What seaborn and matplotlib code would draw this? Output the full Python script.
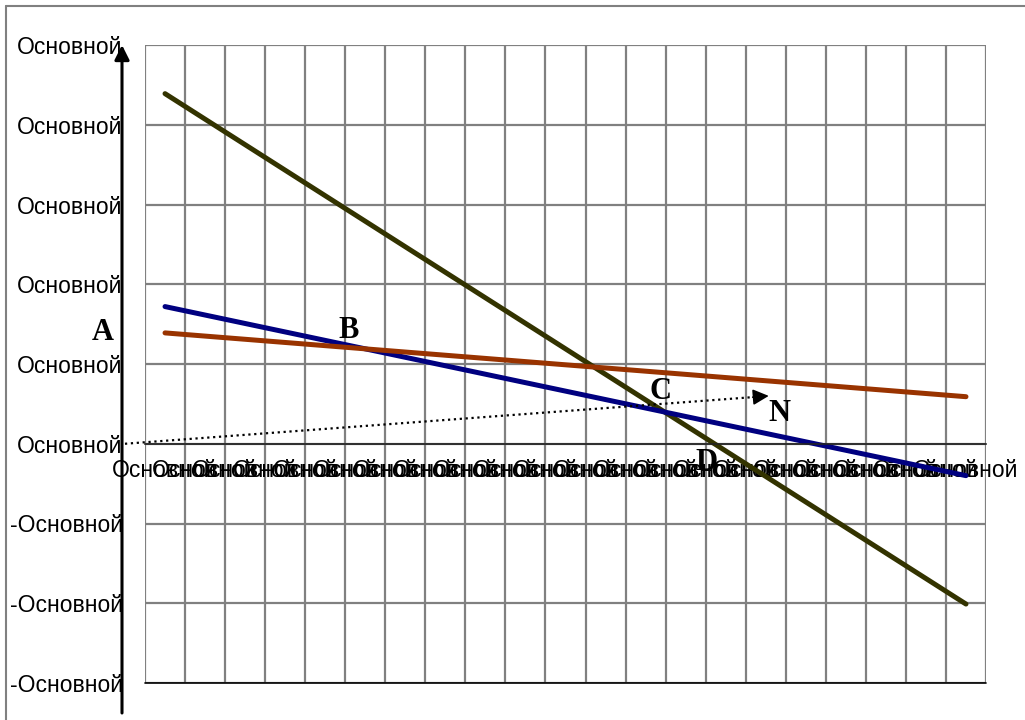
import numpy as np
import pandas as pd
import seaborn as sns
import matplotlib.pyplot as plt
from matplotlib.lines import Line2D

# Values (grid units: 1 per gridline)
x_ends = [0.5, 20.5]
olive_vals = [4.39, -2.01]
blue_vals = [1.72, -0.40]
brown_vals = [1.39, 0.59]

x_labels = ['Основной'] * 21
y_ticks = [-3, -2, -1, 0, 1, 2, 3, 4, 5]
y_labels = ['-Основной'] * 3 + ['Основной'] * 6

# dotted arrow A -> N
arrow_start = (-0.5, 0.0)
arrow_tip = (15.575, 0.60)

# point labels
pt_names = ['A', 'B', 'C', 'D', 'N']
pt_x = [-1.05, 5.08, 12.88, 14.03, 15.83]
pt_y = [1.39, 1.42, 0.66, -0.24, 0.38]

df = pd.DataFrame({
    'x': x_ends * 3,
    'y': olive_vals + blue_vals + brown_vals,
    'series': ['olive'] * 2 + ['blue'] * 2 + ['brown'] * 2,
})
palette = {'olive': '#333300', 'blue': '#000080', 'brown': '#993300'}

sns.set_style('white')
plt.rcParams['font.family'] = ['Liberation Sans', 'DejaVu Sans']
plt.rcParams['text.color'] = 'black'
plt.rcParams['xtick.color'] = 'black'
plt.rcParams['ytick.color'] = 'black'

fig = plt.figure(figsize=(10.25, 7.2), dpi=100)
ax = fig.add_axes([145 / 1025, 37 / 720, 841 / 1025, 638 / 720])

sns.lineplot(data=df, x='x', y='y', hue='series', palette=palette,
             linewidth=3.6, legend=False, ax=ax, solid_capstyle='round')

ax.set_xlim(0, 21)
ax.set_ylim(-3, 5)
ax.set_xlabel('')
ax.set_ylabel('')

# grid
ax.set_xticks(np.arange(0, 22))
ax.set_xticklabels([])
ax.set_xticks(np.arange(21) + 0.5, minor=True)
ax.set_xticklabels(x_labels, minor=True)
ax.set_yticks(y_ticks)
ax.set_yticklabels(y_labels)
ax.grid(True, which='major', color='#808080', linewidth=1.6)
ax.set_axisbelow(True)

ax.tick_params(axis='x', which='major', direction='out', length=6.5,
               width=1.2, color='#404040')
ax.tick_params(axis='x', which='minor', length=0, pad=11, labelsize=16.5,
               labelcolor='black')
ax.tick_params(axis='y', length=0, pad=16, labelsize=16.5, labelcolor='black')

for s in ['left', 'right', 'top']:
    ax.spines[s].set_visible(False)
ax.spines['bottom'].set_position(('data', 0))
ax.spines['bottom'].set_color('#222222')
ax.spines['bottom'].set_linewidth(1.2)
ax.axhline(-3, color='black', linewidth=1.2, clip_on=False)

# dotted arrow
ax.plot([arrow_start[0], arrow_tip[0] - 0.3], [arrow_start[1], arrow_tip[1] - 0.012],
        color='black', linestyle=':', linewidth=1.6, clip_on=False)
ax.annotate('', xy=arrow_tip, xytext=(arrow_tip[0] - 0.4, arrow_tip[1] - 0.016),
            arrowprops=dict(arrowstyle='-|>', color='black', lw=1.2,
                            mutation_scale=24, shrinkA=0, shrinkB=0))

for name, px, py in zip(pt_names, pt_x, pt_y):
    ax.text(px, py, name, family=['Liberation Serif'], fontweight='bold',
            fontsize=22, color='black', ha='center', va='center', clip_on=False)

# outer frame (top and left edges only are inside the picture)
fig.lines.append(Line2D([6 / 1025, 6 / 1025], [0, 1 - 6 / 720],
                        transform=fig.transFigure, color='#808080', linewidth=1.5))
fig.lines.append(Line2D([6 / 1025, 1], [1 - 6 / 720, 1 - 6 / 720],
                        transform=fig.transFigure, color='#808080', linewidth=1.5))

# vertical axis arrow left of the plot
ax.annotate('', xy=(122 / 1025, 675 / 720), xycoords='figure fraction',
            xytext=(122 / 1025, 7 / 720), textcoords='figure fraction',
            arrowprops=dict(arrowstyle='-|>', color='black', lw=2.2,
                            mutation_scale=22, shrinkA=0, shrinkB=0))

fig.savefig('out.png', dpi=100)
